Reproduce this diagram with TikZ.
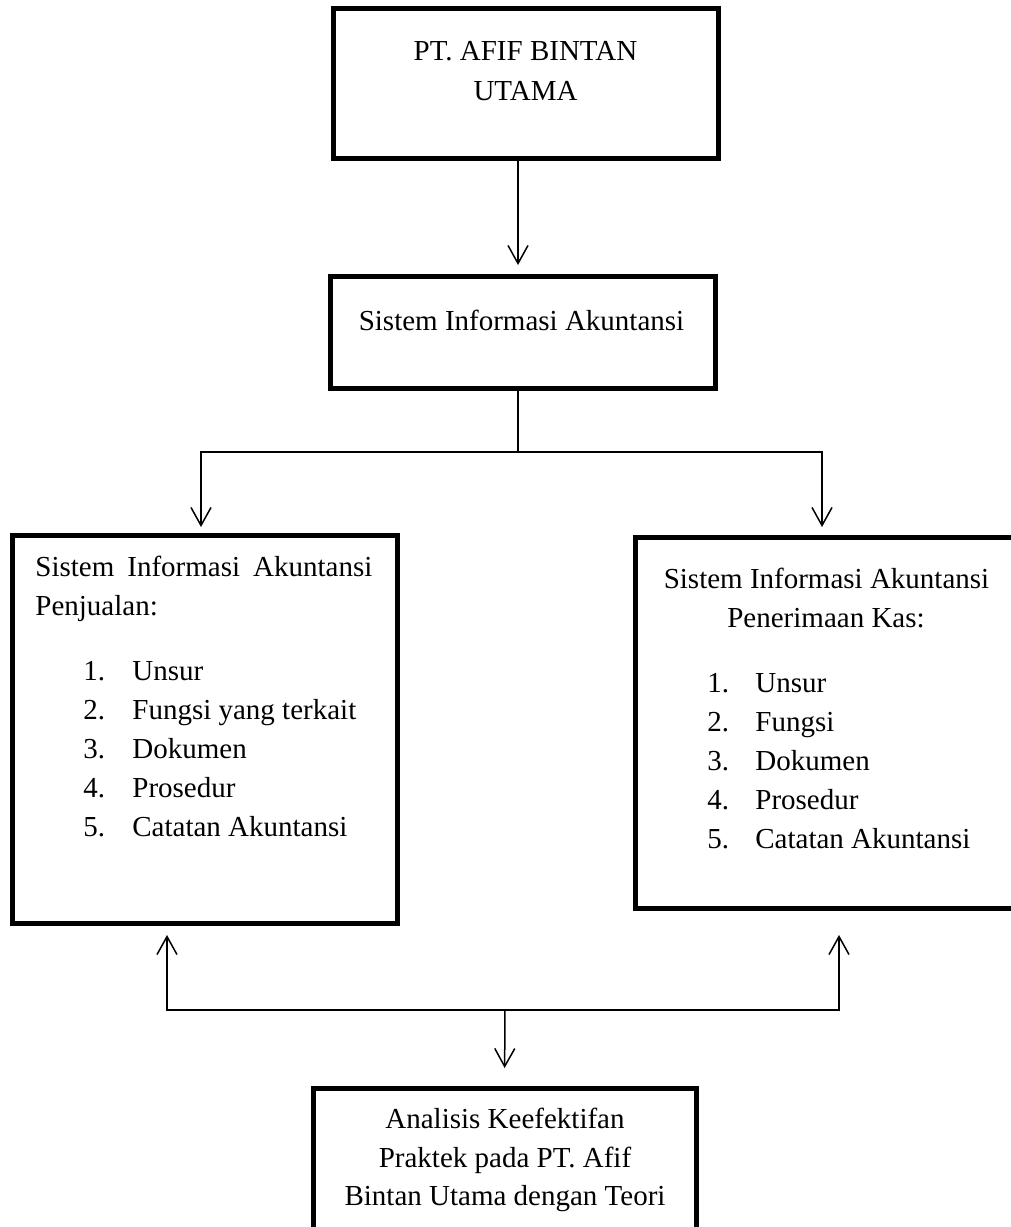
\documentclass[tikz,border=0pt]{standalone}
\usepackage{fontspec}
\setmainfont{Liberation Serif}
\usetikzlibrary{arrows.meta,positioning,calc}

\tikzset{
  kotak/.style = {draw, line width=2.5pt, inner sep=0pt, outer sep=0pt},
  teks/.style = {inner sep=0pt, anchor=base, font=\fontsize{14.5}{19.5}\selectfont},
  panah/.style = {-{Straight Barb[length=9pt,width=10pt]}, line width=0.75pt},
  garis/.style = {line width=0.75pt}
}

\begin{document}
\begin{tikzpicture}[x = 0.5pt, y = -0.5pt]
    \useasboundingbox (0,0) rectangle (1011,1227);
    \clip (0,0) rectangle (1011,1227);
    % kotak
    \node[kotak, minimum width=192.5pt, minimum height=75pt] (pt) at (525.5,83) {};
    \node[kotak, minimum width=192.5pt, minimum height=56pt] (sia) at (522.5,332) {};
    \node[kotak, minimum width=192.5pt, minimum height=194pt] (penj) at (204.5,729) {};
    \node[kotak, minimum width=197.5pt, minimum height=185.5pt] (kas) at (832.5,722.5) {};
    \node[kotak, minimum width=191.5pt, minimum height=110pt] (analisis) at (504.5,1198) {};
    % teks
    \node[teks] (pt1) at (525.5,60) {PT. AFIF BINTAN};
    \node[teks] (pt2) at (525.5,100) {UTAMA};
    \node[teks] (sia1) at (521.5,330) {Sistem Informasi Akuntansi};
    \node[teks, anchor=base west] (penj1) at (35,576) {\makebox[168.5pt][s]{Sistem Informasi Akuntansi}};
    \node[teks, anchor=base west] (penj2) at (35,615) {Penjualan:};
    \node[teks, anchor=base west] (penjlist) at (83,680) {\begin{tabular}[t]{@{}p{24.5pt}@{}l@{}}
        1. & Unsur\\
        2. & Fungsi yang terkait\\
        3. & Dokumen\\
        4. & Prosedur\\
        5. & Catatan Akuntansi
      \end{tabular}};
    \node[teks] (kas1) at (826.5,588) {Sistem Informasi Akuntansi};
    \node[teks] (kas2) at (826,627) {Penerimaan Kas:};
    \node[teks, anchor=base west] (kaslist) at (707,692) {\begin{tabular}[t]{@{}p{24pt}@{}l@{}}
        1. & Unsur\\
        2. & Fungsi\\
        3. & Dokumen\\
        4. & Prosedur\\
        5. & Catatan Akuntansi
      \end{tabular}};
    \node[teks] (an1) at (505,1128) {Analisis Keefektifan};
    \node[teks] (an2) at (505,1167) {Praktek pada PT. Afif};
    \node[teks] (an3) at (505,1205) {Bintan Utama dengan Teori};
    % panah
    \coordinate (bagi) at (518,452);
    \coordinate (gabung) at (505,1010);
    \draw[panah, shorten >=5.5pt] (bagi |- pt.south) -- (bagi |- sia.north);
    \draw[garis] (bagi |- sia.south) -- (bagi);
    \draw[panah, shorten >=4pt] (bagi) -| ([xshift=-1.75pt]penj.north);
    \draw[panah, shorten >=5pt] (bagi) -| ([xshift=-5.25pt]kas.north);
    \draw[panah, shorten >=6pt] (gabung) -| ([xshift=-18.75pt]penj.south);
    \draw[panah, shorten >=13.5pt] (gabung) -| ([xshift=3.25pt]kas.south);
    \draw[panah, shorten >=10pt] (gabung) -- (analisis.north);
\end{tikzpicture}
\end{document}
